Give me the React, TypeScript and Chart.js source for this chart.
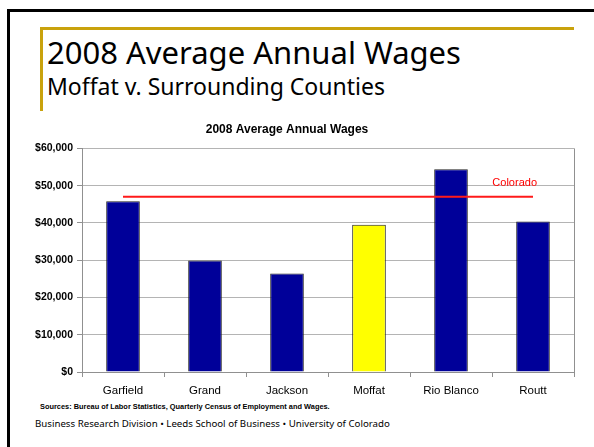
import React, { useEffect, useRef } from "react";
import { Chart, registerables } from "chart.js";

Chart.register(...registerables);

// ---- data ----
const chartTitle = "2008 Average Annual Wages";
const categories = ["Garfield", "Grand", "Jackson", "Moffat", "Rio Blanco", "Routt"];
const wages = [45800, 29900, 26400, 39500, 54400, 40400];
const highlightedCounty = "Moffat";
const coloradoLabel = "Colorado";
const coloradoWages = [47000, 47000, 47000, 47000, 47000, 47000];
const yTickValues = [0, 10000, 20000, 30000, 40000, 50000, 60000];

const slideTitle = "2008 Average Annual Wages";
const slideSubtitle = "Moffat v. Surrounding Counties";
const sourcesText = "Sources: Bureau of Labor Statistics, Quarterly Census of Employment and Wages.";
const footerText = "Business Research Division \u2022 Leeds School of Business \u2022 University of Colorado";

const NAVY = "#000099";
const YELLOW = "#ffff00";
const GRID = "#b4b4b4";
const GOLD = "#c9a20c";
const SLIDE_FONT = "'Noto Sans', 'DejaVu Sans', sans-serif";
const CHART_FONT = "'Liberation Sans', Arial, sans-serif";

const fmtDollar = (v: number) => "$" + Math.round(v).toString().replace(/\B(?=(\d{3})+(?!\d))/g, ",");

const plotBorderPlugin = {
  id: "plotBorder",
  afterDatasetsDraw(chart: any) {
    const { ctx, chartArea } = chart;
    ctx.save();
    ctx.strokeStyle = "#909090";
    ctx.lineWidth = 1;
    ctx.beginPath();
    ctx.moveTo(chartArea.right + 0.5, chartArea.top);
    ctx.lineTo(chartArea.right + 0.5, chartArea.bottom);
    ctx.stroke();
    ctx.restore();
  },
};

const coloradoLabelPlugin = {
  id: "coloradoLabel",
  afterDatasetsDraw(chart: any) {
    const { ctx, scales } = chart;
    const x = scales.x.getPixelForValue(categories.length - 1);
    const y = scales.y.getPixelForValue(coloradoWages[coloradoWages.length - 1]);
    ctx.save();
    ctx.fillStyle = "#ff0000";
    ctx.font = `11px ${CHART_FONT}`;
    ctx.textAlign = "right";
    ctx.textBaseline = "middle";
    ctx.fillText(coloradoLabel, x + 4, y - 14);
    ctx.restore();
  },
};

export default function App() {
  const canvasRef = useRef<HTMLCanvasElement | null>(null);

  useEffect(() => {
    if (!canvasRef.current) return;
    const chart = new Chart(canvasRef.current, {
      type: "bar",
      data: {
        labels: categories,
        datasets: [
          {
            type: "line",
            label: coloradoLabel,
            data: coloradoWages,
            borderColor: "#ff1a1a",
            borderWidth: 2,
            pointRadius: 0,
            fill: false,
            order: 0,
          } as any,
          {
            type: "bar",
            label: "Average Annual Wage",
            data: wages,
            backgroundColor: categories.map((c) => (c === highlightedCounty ? YELLOW : NAVY)),
            borderColor: "#222222",
            borderWidth: 1,
            barPercentage: 0.41,
            categoryPercentage: 1,
            order: 1,
          },
        ],
      },
      options: {
        responsive: false,
        animation: false,
        layout: { padding: { left: 0, right: 20, top: 0, bottom: 0 } },
        plugins: {
          legend: { display: false },
          tooltip: { enabled: false },
          title: {
            display: true,
            text: chartTitle,
            color: "#000",
            font: { family: CHART_FONT, size: 12, weight: "bold" },
            padding: { top: 10, bottom: 12 },
          },
        },
        scales: {
          x: {
            offset: true,
            grid: {
              offset: true,
              drawOnChartArea: false,
              drawTicks: true,
              tickLength: 5,
              color: "#909090",
            },
            border: { display: true, color: "#909090" },
            ticks: {
              color: "#000",
              padding: 7,
              font: { family: CHART_FONT, size: 11.5 },
              maxRotation: 0,
            },
            afterFit(scale: any) {
              scale.height = 30;
            },
          },
          y: {
            min: 0,
            max: 60000,
            afterBuildTicks(scale: any) {
              scale.ticks = yTickValues.map((v) => ({ value: v }));
            },
            grid: { color: GRID, tickLength: 5, tickColor: "#909090" },
            border: { display: true, color: "#909090" },
            ticks: {
              color: "#000",
              padding: 4,
              font: { family: CHART_FONT, size: 10.5, weight: "bold" },
              callback: (v: any) => fmtDollar(Number(v)),
            },
            afterFit(scale: any) {
              scale.width = 82;
            },
          },
        },
      },
      plugins: [plotBorderPlugin, coloradoLabelPlugin],
    });
    return () => chart.destroy();
  }, []);

  return (
    <div
      style={{
        position: "absolute",
        left: 0,
        top: 0,
        width: 594,
        height: 447,
        overflow: "hidden",
        background: "#fff",
      }}
    >
      {/* slide frame */}
      <div style={{ position: "absolute", left: 7, top: 9, width: 587, height: 3, background: "#000" }} />
      <div style={{ position: "absolute", left: 7, top: 9, width: 3, height: 438, background: "#000" }} />
      {/* gold accent */}
      <div style={{ position: "absolute", left: 40, top: 27, width: 534, height: 3, background: GOLD }} />
      <div style={{ position: "absolute", left: 40, top: 27, width: 3, height: 84, background: GOLD }} />

      <div
        style={{
          position: "absolute",
          left: 47,
          top: 34,
          fontFamily: SLIDE_FONT,
          fontSize: 31,
          lineHeight: "36px",
          color: "#000",
          whiteSpace: "nowrap",
        }}
      >
        {slideTitle}
      </div>
      <div
        style={{
          position: "absolute",
          left: 47,
          top: 72,
          fontFamily: SLIDE_FONT,
          fontSize: 23,
          lineHeight: "28px",
          color: "#000",
          whiteSpace: "nowrap",
        }}
      >
        {slideSubtitle}
      </div>

      <canvas
        ref={canvasRef}
        width={594}
        height={290}
        style={{ position: "absolute", left: 0, top: 112, width: 594, height: 290 }}
      />

      <div
        style={{
          position: "absolute",
          left: 40,
          top: 402,
          fontFamily: CHART_FONT,
          fontSize: 7.4,
          fontWeight: "bold",
          lineHeight: "10px",
          color: "#000",
          whiteSpace: "nowrap",
        }}
      >
        {sourcesText}
      </div>
      <div
        style={{
          position: "absolute",
          left: 35,
          top: 417,
          fontFamily: SLIDE_FONT,
          fontSize: 9.7,
          lineHeight: "14px",
          color: "#000",
          whiteSpace: "nowrap",
        }}
      >
        {footerText}
      </div>
    </div>
  );
}
